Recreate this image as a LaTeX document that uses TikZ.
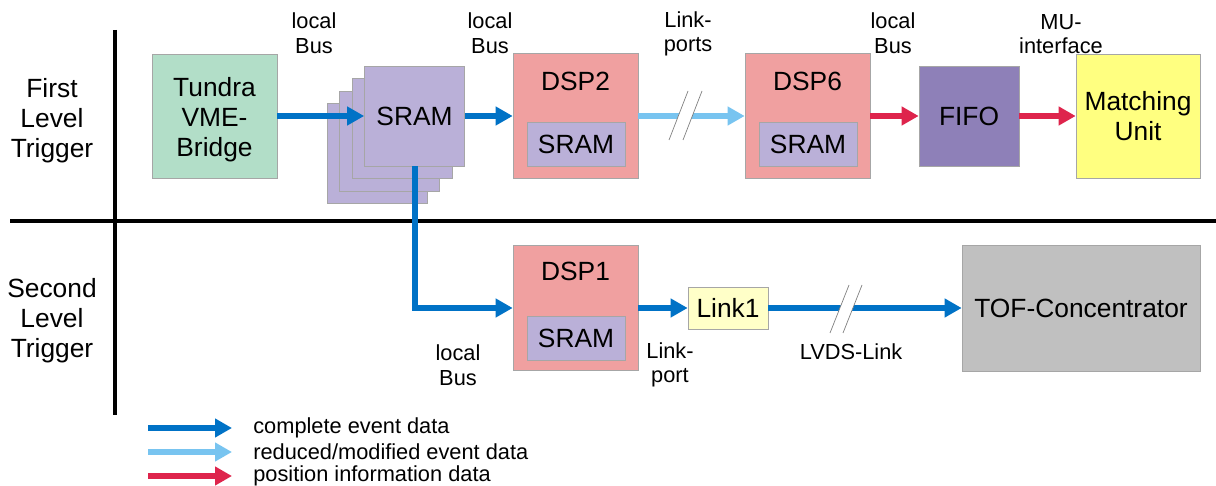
\documentclass[tikz,border=0pt]{standalone}
\usepackage{fontspec}
\setmainfont{Liberation Sans}
\usetikzlibrary{arrows.meta}
\definecolor{evblue}{RGB}{0,114,198}
\definecolor{evlight}{RGB}{120,196,240}
\definecolor{evred}{RGB}{222,36,76}
\definecolor{tundragreen}{RGB}{178,222,200}
\definecolor{sramviolet}{RGB}{186,176,216}
\definecolor{dsppink}{RGB}{240,160,160}
\definecolor{fifoviolet}{RGB}{142,128,184}
\definecolor{muyellow}{RGB}{255,255,128}
\definecolor{linkyellow}{RGB}{255,255,200}
\definecolor{tofgray}{RGB}{192,192,192}

\begin{document}
\begin{tikzpicture}[x=0.02cm,y=-0.02cm,
    box/.style={draw=gray!70,thin,inner sep=0pt,align=center,font=\fontsize{15}{17}\selectfont},
    big/.style={inner sep=0pt,align=center,font=\fontsize{15}{17}\selectfont},
    small/.style={inner sep=0pt,align=center,font=\fontsize{12.4}{14}\selectfont},
    dspbox/.style={box,fill=dsppink,minimum width=2.5cm,minimum height=2.5cm},
    srambox/.style={box,fill=sramviolet,minimum width=1.96cm,minimum height=0.88cm},
    cdata/.style={evblue,line width=0.12cm,-{Triangle[length=0.34cm,width=0.36cm]}},
    rdata/.style={evlight,line width=0.12cm,-{Triangle[length=0.34cm,width=0.36cm]}},
    pdata/.style={evred,line width=0.12cm,-{Triangle[length=0.34cm,width=0.36cm]}},
    brk/.style={gray,thin}]
    \useasboundingbox (0,0) rectangle (1216,486);

    % trigger levels
    \draw[line width=0.08cm] (115,30)--(115,415);
    \draw[line width=0.08cm] (10,221)--(1216,221);
    \node[big] (first) at (52,121) {First\\Level\\Trigger};
    \node[big] (second) at (52,321) {Second\\Level\\Trigger};

    % first level
    \node[box,fill=tundragreen,minimum width=2.5cm,minimum height=2.48cm] (tundra) at (214.5,116) {};
    \node[big] (tundratxt) at (214.5,120) {Tundra\\VME-\\Bridge};
    \foreach \d in {3,2,1}
        \node[box,fill=sramviolet,minimum size=2cm] (sram\d) at (414.5-12.5*\d,116+12.5*\d) {};
    \node[box,fill=sramviolet,minimum size=2cm] (sram) at (414.5,116) {SRAM};
    \node[dspbox] (dsp2) at (575.5,116) {};
    \node[big] (dsp2lbl) at (575.5,81) {DSP2};
    \node[srambox] (dsp2sram) at (576,144) {SRAM};
    \node[dspbox] (dsp6) at (807.5,116) {};
    \node[big] (dsp6lbl) at (807.5,81) {DSP6};
    \node[srambox] (dsp6sram) at (808,144) {SRAM};
    \node[box,fill=fifoviolet,minimum size=2cm] (fifo) at (969,116) {FIFO};
    \node[box,fill=muyellow,minimum width=2.48cm,minimum height=2.48cm] (mu) at (1138,116) {Matching\\Unit};

    \node[small] (bus1) at (314,33) {local\\Bus};
    \node[small] (bus2) at (490,33) {local\\Bus};
    \node[small] (lports) at (688,34) {Link-\\ports};
    \node[small] (bus3) at (893,33) {local\\Bus};
    \node[small] (muif) at (1061,34) {MU-\\interface};

    \draw[cdata] (tundra.east) -- (sram.west);
    \draw[cdata] (sram.east) -- (dsp2.west);
    \draw[rdata] (dsp2.east) -- (dsp6.west);
    \draw[pdata] (dsp6.east) -- (fifo.west);
    \draw[pdata] (fifo.east) -- (mu.west);
    \fill[white] (669,140)--(688,91)--(702,91)--(683,140)--cycle;
    \draw[brk] (669,140)--(688,91) (683,140)--(702,91);

    % second level
    \node[dspbox] (dsp1) at (575.5,308) {};
    \node[big] (dsp1lbl) at (575.5,271) {DSP1};
    \node[srambox] (dsp1sram) at (576,338) {SRAM};
    \node[box,fill=linkyellow,minimum width=1.6cm,minimum height=0.84cm] (link1) at (728,308) {Link1};
    \node[box,fill=tofgray,minimum width=4.76cm,minimum height=2.52cm] (tof) at (1081,308) {TOF-Concentrator};

    \node[small] (bus4) at (458,365) {local\\Bus};
    \node[small] (lport) at (670,365) {Link-\\port};
    \node[small] (lvds) at (851,352) {LVDS-Link};

    \draw[cdata] (sram.south) |- (dsp1.west);
    \draw[cdata] (dsp1.east) -- (link1.west);
    \draw[cdata] (link1.east) -- (tof.west);
    \fill[white] (830,333)--(849,285)--(862,285)--(843,333)--cycle;
    \draw[brk] (830,333)--(849,285) (843,333)--(862,285);

    % legend
    \coordinate (lg1) at (148,428);
    \coordinate (lg2) at (148,452);
    \coordinate (lg3) at (148,476);
    \draw[cdata] (lg1) -- ++(84,0);
    \draw[rdata] (lg2) -- ++(84,0);
    \draw[pdata] (lg3) -- ++(84,0);
    \node[small,anchor=west] (lgt1) at (253,428) {complete event data};
    \node[small,anchor=west] (lgt2) at (253,452) {reduced/modified event data};
    \node[small,anchor=west] (lgt3) at (253,476) {position information data};
\end{tikzpicture}
\end{document}
